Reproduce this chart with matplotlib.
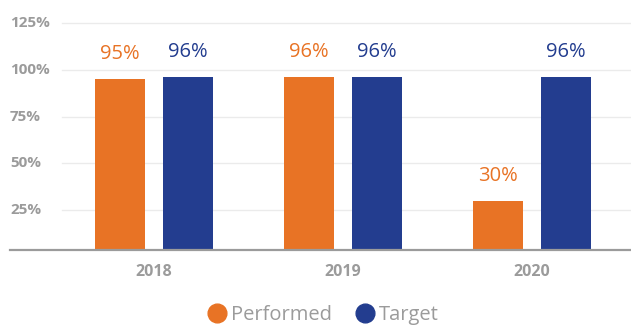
import numpy as np
import matplotlib.pyplot as plt
from matplotlib.lines import Line2D

# data
years = ['2018', '2019', '2020']
performed = [95, 96, 30]
target = [96, 96, 96]
yticks = [25, 50, 75, 100, 125]

orange = '#E87325'
blue = '#233D8F'
gray = '#9B9B9B'

plt.rcParams['font.family'] = ['Open Sans', 'DejaVu Sans']

fig = plt.figure(figsize=(6.31, 3.25), dpi=100)
ax = fig.add_axes([10 / 631, 75 / 325, 621 / 631, 250 / 325])

x = np.arange(len(years))
width = 0.265
offset = 0.18

ax.set_xlim(-0.762, 2.524)
ax.set_ylim(3.7, 137.3)

# horizontal grid lines starting right of the tick labels
for t in yticks:
    ax.plot([-0.487, 2.524], [t, t], color='#EBEBEB', lw=1, zorder=0)
    ax.text(0, t, f'{t}%', transform=ax.get_yaxis_transform(),
            ha='left', va='center', fontsize=11, fontweight='bold', color=gray)

b1 = ax.bar(x - offset, performed, width, color=orange, zorder=2)
b2 = ax.bar(x + offset, target, width, color=blue, zorder=2)

for rect, v in zip(b1, performed):
    ax.annotate(f'{v}%', (rect.get_x() + rect.get_width() / 2, v),
                xytext=(0, 11), textcoords='offset points',
                ha='center', va='bottom', fontsize=14.5, color=orange)
for rect, v in zip(b2, target):
    ax.annotate(f'{v}%', (rect.get_x() + rect.get_width() / 2, v),
                xytext=(0, 11), textcoords='offset points',
                ha='center', va='bottom', fontsize=14.5, color=blue)

# bottom axis line
ax.axhline(3.7, color=gray, lw=1.6, zorder=3, clip_on=False)

for xi, yr in zip(x, years):
    ax.text(xi, -0.09, yr, transform=ax.get_xaxis_transform(),
            ha='center', va='center', fontsize=11.5, fontweight='bold', color=gray)

for s in ax.spines.values():
    s.set_visible(False)
ax.set_xticks([])
ax.set_yticks([])

handles = [Line2D([], [], marker='o', ls='', markersize=13.5, color=orange),
           Line2D([], [], marker='o', ls='', markersize=13.5, color=blue)]
leg = fig.legend(handles, ['Performed', 'Target'], loc='center',
                 bbox_to_anchor=(0.51, 0.032), ncol=2, frameon=False,
                 fontsize=14.5, handletextpad=0.1, columnspacing=1.0,
                 handlelength=1.2)
for t in leg.get_texts():
    t.set_color(gray)

fig.savefig('out.png', dpi=100)
